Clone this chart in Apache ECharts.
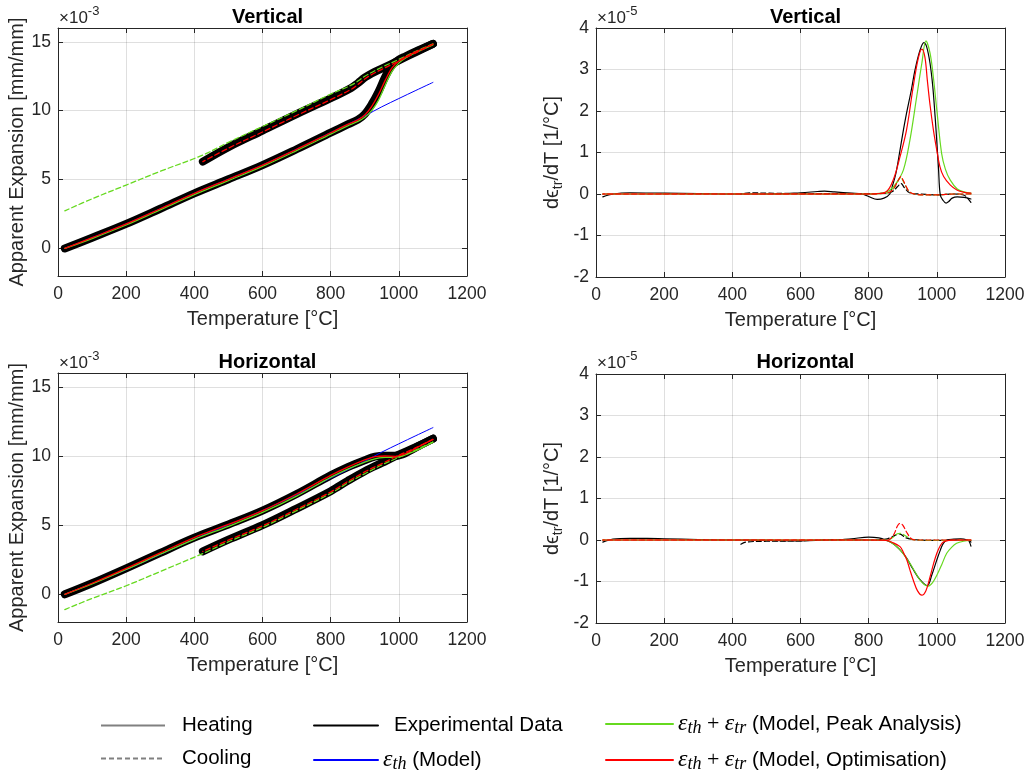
<!DOCTYPE html>
<html><head><meta charset="utf-8">
<script src="https://cdn.jsdelivr.net/npm/echarts@6/dist/echarts.min.js"></script>
<style>html,body{margin:0;padding:0;background:#fff}#c{width:1033px;height:775px}</style>
</head><body><div id="c"></div>
<script>
// ---------- axis ranges / ticks ----------
const xRange = [0, 1200], xStep = 200;
const expRange = [-2, 16];      // ×10^-3
const derRange = [-2, 4], derStep = 1; // ×10^-5
const titles = ['Vertical', 'Vertical', 'Horizontal', 'Horizontal'];
const expLabels = ['-3', '-5', '-3', '-5'];

// ---------- Vertical: apparent expansion (×1e-3) ----------
const vHeatT     = [20,100,200,300,400,500,600,700,800,850,880,900,920,940,960,980,1000,1020,1050,1100];
const vHeatExp   = [0,0.78,1.78,2.88,4.0,5.02,6.05,7.2,8.4,9.0,9.35,9.75,10.45,11.35,12.45,13.3,13.7,13.95,14.3,14.85];
const vHeatRed   = [0,0.78,1.78,2.88,4.0,5.02,6.05,7.2,8.4,9.0,9.33,9.68,10.3,11.15,12.2,13.1,13.6,13.9,14.28,14.82];
const vHeatGreen = [0,0.72,1.7,2.8,3.9,4.92,5.95,7.1,8.3,8.9,9.22,9.52,10.0,10.75,11.85,12.85,13.45,13.82,14.22,14.78];
const thT        = [20,100,200,300,400,500,600,700,800,850,900,950,1000,1050,1100];
const thModel    = [0,0.78,1.78,2.88,4.0,5.02,6.05,7.2,8.4,9.0,9.62,10.28,10.88,11.47,12.05];
const vCoolT     = [1100,1050,1000,950,920,900,880,860,800,700,600,500,425];
const vCoolExp   = [14.85,14.25,13.65,13.05,12.7,12.4,12.0,11.65,10.9,9.75,8.55,7.35,6.3];
const vCoolRed   = [14.82,14.2,13.6,13.0,12.62,12.3,11.9,11.55,10.8,9.65,8.45,7.28,6.3];
const vCoolGreenT= [1100,1050,1000,950,900,880,860,800,700,600,500,425,300,200,100,20];
const vCoolGreen = [14.85,14.3,13.72,13.15,12.5,12.15,11.85,11.2,10.0,8.85,7.7,6.78,5.6,4.6,3.6,2.73];

// ---------- Vertical: d eps_tr / dT (×1e-5) ----------
const dvHeatExpT = [20,50,100,200,300,400,500,600,650,670,700,750,780,800,825,845,862,870,880,892,900,911,925,936,950,962,970,980,988,995,1000,1005,1010,1018,1027,1035,1045,1060,1080,1100];
const dvHeatExp  = [-0.07,0,0.03,0.02,0.01,0,0,0.03,0.06,0.07,0.05,0.02,0,-0.06,-0.13,-0.1,0,0.2,0.5,1.06,1.45,1.94,2.5,2.99,3.45,3.65,3.55,3.15,2.6,1.86,1.25,0.6,-0.02,-0.15,-0.22,-0.18,-0.1,-0.07,-0.08,-0.12];
const dvCoolExpT = [1100,1090,1080,1050,1000,950,920,905,895,885,870,850,800,700,600,500,450,425];
const dvCoolExp  = [-0.2,-0.1,-0.03,0,-0.02,0,0.03,0.15,0.25,0.18,0.06,0.02,0.01,0.01,0.01,0.02,0.03,0];
const dvGreenT   = [20,800,840,860,880,902,921,941,956,968,980,990,1000,1014,1025,1039,1060,1080,1100];
const dvGreen    = [0,0,0.02,0.08,0.25,0.58,1.3,2.35,3.15,3.69,3.4,2.8,2.02,0.98,0.6,0.34,0.12,0.05,0.02];
const dvRedT     = [20,800,850,872,892,911,930,945,956,965,972,980,990,1000,1009,1020,1039,1060,1080,1100];
const dvRed      = [0,0,0.05,0.34,0.9,1.54,2.55,3.25,3.49,3.3,2.75,2.15,1.54,1.05,0.66,0.42,0.22,0.09,0.04,0.02];
const dvCoolModelT = [1100,1050,1000,960,940,920,910,900,895,885,875,865,850,800,600,425,200,20];
const dvCoolRed    = [0,0,-0.02,-0.02,-0.01,0.05,0.18,0.35,0.42,0.3,0.15,0.06,0.02,0,0,0,0,0];
const dvCoolGreen  = [0,0,-0.02,-0.02,-0.01,0.05,0.17,0.33,0.4,0.3,0.15,0.06,0.02,0,0,0,0,0];

// ---------- Horizontal: apparent expansion (×1e-3) ----------
const hHeatT     = [20,100,200,300,400,500,600,700,800,850,900,930,960,990,1010,1030,1060,1100];
const hHeatExp   = [0,0.8,1.88,3.0,4.1,5.05,6.05,7.25,8.6,9.2,9.7,9.95,10.02,10.02,10.12,10.35,10.75,11.25];
const hHeatRed   = [0,0.8,1.88,3.0,4.1,5.05,6.05,7.25,8.6,9.2,9.72,9.95,10.0,9.98,10.08,10.3,10.7,11.2];
const hHeatGreen = [0,0.75,1.8,2.9,3.98,4.92,5.92,7.1,8.45,9.05,9.55,9.8,9.9,9.92,10.0,10.18,10.5,11.0];
const hCoolT     = [1100,1050,1000,950,900,850,800,700,600,500,425];
const hCoolExp   = [11.25,10.65,10.1,9.5,8.9,8.2,7.45,6.2,5.0,3.95,3.1];
const hCoolRed   = [11.2,10.6,10.05,9.45,8.85,8.15,7.4,6.15,4.95,3.92,3.1];
const hCoolGreenT= [1100,1050,1000,950,900,850,800,700,600,500,425,300,200,100,20];
const hCoolGreen = [11.0,10.45,9.9,9.35,8.72,8.05,7.3,6.05,4.85,3.8,2.95,1.65,0.62,-0.3,-1.1];

// ---------- Horizontal: d eps_tr / dT (×1e-5) ----------
const dhHeatExpT = [20,50,100,150,200,300,400,500,600,700,750,800,830,850,870,890,910,930,950,972,985,1000,1010,1019,1030,1050,1070,1090,1100];
const dhHeatExp  = [-0.05,0.02,0.04,0.04,0.03,0.01,0,-0.01,-0.02,0,0.03,0.07,0.05,0,-0.08,-0.22,-0.42,-0.7,-0.95,-1.1,-0.85,-0.48,-0.25,-0.08,0,0.02,0.03,0,-0.05];
const dhCoolExpT = [1100,1090,1060,1000,950,910,890,870,850,800,700,600,500,440,425];
const dhCoolExp  = [-0.15,0,0,-0.01,0,0.05,0.15,0.08,0.02,0,0.01,-0.02,-0.03,-0.05,-0.1];
const dhGreenT   = [20,800,850,862,877,892,906,921,936,951,963,975,988,1000,1014,1029,1044,1058,1078,1100];
const dhGreen    = [0,0,-0.01,-0.04,-0.12,-0.24,-0.38,-0.56,-0.77,-0.97,-1.07,-1.11,-1.02,-0.85,-0.6,-0.32,-0.17,-0.08,-0.03,-0.01];
const dhRedT     = [20,800,850,870,892,902,912,921,931,943,956,968,980,990,1000,1010,1019,1035,1060,1100];
const dhRed      = [0,0,-0.01,-0.06,-0.16,-0.3,-0.48,-0.72,-0.97,-1.22,-1.33,-1.22,-0.89,-0.58,-0.32,-0.14,-0.05,-0.01,0,0];
const dhCoolModelT = [1100,1000,940,925,912,900,892,884,875,865,855,800,425,20];
const dhCoolRed    = [0,0,0,0.03,0.18,0.36,0.4,0.33,0.15,0.04,0,0,0,0];
const dhCoolGreen  = [0,-0.01,0,0.02,0.08,0.14,0.16,0.15,0.09,0.03,0,0,0,0];

// ---------- styling ----------
const F = "'Liberation Sans', Arial, 'DejaVu Sans', sans-serif";
const SERIF = "'Liberation Serif', 'DejaVu Serif', serif";
const AX = '#262626', GRID = 'rgba(38,38,38,0.15)';
const BLACK = '#000000', BLUE = '#0000ff', GREEN = '#66d91f', RED = '#ff0000', GRAY = '#808080';
const grids = [
  {left:58, top:28, width:409, height:248},
  {left:596, top:28, width:409, height:249},
  {left:58, top:373, width:409, height:249},
  {left:596, top:374, width:409, height:249}
];

function zip(T, V){ return T.map((t,i)=>[t, V[i]]); }
function S(g, name, T, V, color, width, dash, z){
  return {type:'line', name, xAxisIndex:g, yAxisIndex:g, data:zip(T,V), symbol:'none',
    smooth:0.35, silent:true, animation:false, z:z||2, clip:true,
    lineStyle:{color, width, type: dash ? [5,3] : 'solid', cap:'round', join:'round'},
    itemStyle:{color}};
}

const xAxes = [], yAxes = [];
for (let g=0; g<4; g++){
  xAxes.push({type:'value', gridIndex:g, min:xRange[0], max:xRange[1], interval:xStep, position:'bottom',
    name:'Temperature [°C]', nameLocation:'middle', nameGap:33,
    nameTextStyle:{fontSize:20, color:AX, fontFamily:F},
    axisLine:{show:true, onZero:false, lineStyle:{color:AX, width:1}},
    axisTick:{show:true, inside:true, length:5, lineStyle:{color:AX}},
    axisLabel:{fontSize:17.5, color:AX, margin:9, fontFamily:F, formatter: v => String(v)},
    splitLine:{show:true, lineStyle:{color:GRID, width:1}}});
}
for (let g=0; g<4; g++){
  const isExp = (g % 2 === 0);
  const y = {type:'value', gridIndex:g, position:'left',
    nameLocation:'middle', nameTextStyle:{fontSize:20, color:AX, fontFamily:F},
    axisLine:{show:true, onZero:false, lineStyle:{color:AX, width:1}},
    axisTick:{show:true, inside:true, length:5, lineStyle:{color:AX}},
    splitLine:{show:true, lineStyle:{color:GRID, width:1}}};
  if (isExp){
    y.min = expRange[0]; y.max = expRange[1]; y.splitNumber = 4;
    y.name = 'Apparent Expansion [mm/mm]'; y.nameGap = 30;
    y.axisLabel = {fontSize:17.5, color:AX, margin:7, fontFamily:F,
      formatter: v => (Math.abs(v % 5) < 1e-9 ? String(v) : '')};
  } else {
    y.min = derRange[0]; y.max = derRange[1]; y.interval = derStep;
    y.name = '{n|dϵ}{s|tr}{n|/dT [1/°C]}'; y.nameGap = 31;
    y.nameTextStyle = {fontSize:20, color:AX, fontFamily:F,
      rich:{n:{fontSize:20, color:AX, fontFamily:F, lineHeight:26},
            s:{fontSize:14, color:AX, fontFamily:F, lineHeight:14, verticalAlign:'bottom'}}};
    y.axisLabel = {fontSize:17.5, color:AX, margin:7, fontFamily:F};
  }
  yAxes.push(y);
}
// mirror axes (box with ticks on top/right)
for (let g=0; g<4; g++){
  xAxes.push({type:'value', gridIndex:g, min:xRange[0], max:xRange[1], interval:xStep, position:'top',
    axisLine:{show:true, onZero:false, lineStyle:{color:AX, width:1}},
    axisTick:{show:true, inside:true, length:5, lineStyle:{color:AX}},
    axisLabel:{show:false}, splitLine:{show:false}});
}
for (let g=0; g<4; g++){
  const isExp = (g % 2 === 0);
  const y = {type:'value', gridIndex:g, position:'right',
    axisLine:{show:true, onZero:false, lineStyle:{color:AX, width:1}},
    axisTick:{show:true, inside:true, length:5, lineStyle:{color:AX}},
    axisLabel:{show:false}, splitLine:{show:false}};
  if (isExp){ y.min = expRange[0]; y.max = expRange[1]; y.splitNumber = 4; }
  else { y.min = derRange[0]; y.max = derRange[1]; y.interval = derStep; }
  yAxes.push(y);
}

const series = [
  // dummy legend entries
  {type:'line', name:'heat', data:[], symbol:'none', xAxisIndex:0, yAxisIndex:0, lineStyle:{color:GRAY, width:2, type:'solid'}, itemStyle:{color:GRAY}},
  {type:'line', name:'cool', data:[], symbol:'none', xAxisIndex:0, yAxisIndex:0, lineStyle:{color:GRAY, width:2, type:[5,3]}, itemStyle:{color:GRAY}},
  // Vertical expansion
  S(0,'exp', vHeatT, vHeatExp, BLACK, 8, false, 2),
  S(0,'expC', vCoolT, vCoolExp, BLACK, 8, false, 2),
  S(0,'eth', thT, thModel, BLUE, 1, false, 3),
  S(0,'pk', vHeatT, vHeatGreen, GREEN, 1.3, false, 4),
  S(0,'opt', vHeatT, vHeatRed, RED, 1.3, false, 5),
  S(0,'pkC', vCoolGreenT, vCoolGreen, GREEN, 1.3, true, 4),
  S(0,'optC', vCoolT, vCoolRed, RED, 1.3, true, 5),
  // Vertical derivative
  S(1,'expD', dvHeatExpT, dvHeatExp, BLACK, 1.2, false, 2),
  S(1,'expDC', dvCoolExpT, dvCoolExp, BLACK, 1.2, true, 2),
  S(1,'pkD', dvGreenT, dvGreen, GREEN, 1.2, false, 4),
  S(1,'optD', dvRedT, dvRed, RED, 1.2, false, 5),
  S(1,'pkDC', dvCoolModelT, dvCoolGreen, GREEN, 1.2, true, 4),
  S(1,'optDC', dvCoolModelT, dvCoolRed, RED, 1.2, true, 5),
  // Horizontal expansion
  S(2,'expH', hHeatT, hHeatExp, BLACK, 8, false, 2),
  S(2,'expHC', hCoolT, hCoolExp, BLACK, 8, false, 2),
  S(2,'ethH', thT, thModel, BLUE, 1, false, 3),
  S(2,'pkH', hHeatT, hHeatGreen, GREEN, 1.3, false, 4),
  S(2,'optH', hHeatT, hHeatRed, RED, 1.3, false, 5),
  S(2,'pkHC', hCoolGreenT, hCoolGreen, GREEN, 1.3, true, 4),
  S(2,'optHC', hCoolT, hCoolRed, RED, 1.3, true, 5),
  // Horizontal derivative
  S(3,'expHD', dhHeatExpT, dhHeatExp, BLACK, 1.2, false, 2),
  S(3,'expHDC', dhCoolExpT, dhCoolExp, BLACK, 1.2, true, 2),
  S(3,'pkHD', dhGreenT, dhGreen, GREEN, 1.2, false, 4),
  S(3,'optHD', dhRedT, dhRed, RED, 1.2, false, 5),
  S(3,'pkHDC', dhCoolModelT, dhCoolGreen, GREEN, 1.2, true, 4),
  S(3,'optHDC', dhCoolModelT, dhCoolRed, RED, 1.2, true, 5)
];

const legendText = {
  heat: '{sp1|}{t|Heating}',
  cool: '{sp1|}{t|Cooling}',
  exp:  '{sp2|}{t|Experimental Data}',
  eth:  '{e|ε}{s|th}{t| (Model)}',
  pk:   '{e|ε}{s|th}{p| + }{e|ε}{s|tr}{t| (Model, Peak Analysis)}',
  opt:  '{e|ε}{s|th}{p| + }{e|ε}{s|tr}{t| (Model, Optimisation)}'
};
const rich = {
  t:{fontSize:20.5, fontFamily:F, color:'#000', lineHeight:26},
  p:{fontSize:22, fontFamily:SERIF, color:'#000', lineHeight:26},
  e:{fontSize:24, fontFamily:SERIF, fontStyle:'italic', color:'#000', lineHeight:26},
  s:{fontSize:18, fontFamily:SERIF, fontStyle:'italic', color:'#000', lineHeight:16, verticalAlign:'bottom'},
  sp1:{width:12, lineHeight:26},
  sp2:{width:11, lineHeight:26}
};
const clear = 'rgba(0,0,0,0)';
function mkLegend(left, top, data, gap, w){
  return {left, top, orient:'vertical', padding:0, height:120, itemWidth:w, itemHeight:12, itemGap:gap, data,
    selectedMode:false, formatter: n => legendText[n], lineStyle:{width:2},
    itemStyle:{color:clear, borderColor:clear, borderWidth:0, opacity:0},
    textStyle:{fontSize:20.5, fontFamily:F, color:'#000', rich}};
}

const titleList = titles.map((t,g)=>({text:t, left: grids[g].left + grids[g].width/2, top: g<2 ? 2 : 347,
  textAlign:'center', textStyle:{fontSize:20, fontWeight:'bold', color:'#000', fontFamily:F}}));

const graphics = expLabels.map((e,g)=>({type:'text', left: grids[g].left + 1, top: g<2 ? 5 : 350,
  style:{text:'{a|×10}{b|' + e + '}',
    rich:{a:{fontSize:17, fontFamily:F, fill:AX, lineHeight:22, verticalAlign:'bottom'},
          b:{fontSize:13, fontFamily:F, fill:AX, lineHeight:12, verticalAlign:'top'}}}}));

const chart = echarts.init(document.getElementById('c'), null, {renderer:'canvas'});
chart.setOption({
  backgroundColor:'#ffffff',
  animation:false,
  title: titleList,
  grid: grids,
  xAxis: xAxes,
  yAxis: yAxes,
  legend: [
    mkLegend(100, 715, ['heat','cool'], 12, 64),
    mkLegend(313, 715, ['exp','eth'], 12, 64),
    mkLegend(605, 712, ['pk','opt'], 11, 67)
  ],
  graphic: graphics,
  series
});
</script></body></html>
